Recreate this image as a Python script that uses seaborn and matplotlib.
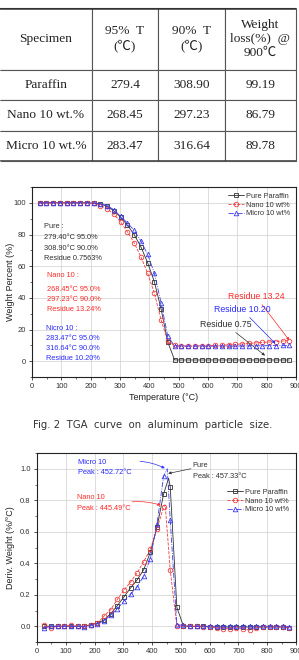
import matplotlib
matplotlib.use('Agg')
import matplotlib.pyplot as plt
import seaborn as sns
import pandas as pd
from matplotlib.ticker import MultipleLocator, AutoMinorLocator


# Tabela (valores do topo)
col_labels = ['Specimen', '95%  T\n(℃)', '90%  T\n(℃)', 'Weight\nloss(%)  @\n900℃']
specimens = ['Paraffin', 'Nano 10 wt.%', 'Micro 10 wt.%']
t95 = ['279.4', '268.45', '283.47']
t90 = ['308.90', '297.23', '316.64']
loss900 = ['99.19', '86.79', '89.78']

# Temperaturas dos marcadores
temp = [26, 49, 72, 95, 118, 141, 164, 187, 210, 233, 256, 279, 302, 325, 348,
        371, 394, 417, 440, 463, 486, 509, 532, 555, 578, 601, 624, 647, 670,
        693, 716, 739, 762, 785, 808, 831, 854, 877]

# TGA - Weight Percent (%)
pure_wt = [100, 100, 100, 100, 100, 100, 100, 100, 99.8, 99.3, 97.8, 95.0, 91.0,
           86.0, 80.0, 72.3, 62.3, 50.2, 33.0, 12.0, 0.8, 0.75, 0.75, 0.75, 0.75,
           0.75, 0.75, 0.75, 0.75, 0.75, 0.75, 0.75, 0.75, 0.75, 0.75, 0.75, 0.75, 0.75]
nano_wt = [100, 100, 100, 100, 100, 100, 100, 99.9, 99.6, 98.3, 96.2, 92.8, 88.0,
           81.7, 74.8, 66.0, 55.6, 43.0, 26.0, 12.5, 10.0, 9.6, 9.6, 9.6, 9.7,
           9.8, 9.9, 10.0, 10.3, 10.6, 10.9, 11.2, 11.5, 11.8, 12.1, 12.4, 12.7, 13.0]
micro_wt = [100, 100, 100, 100, 100, 100, 100, 100, 99.9, 99.5, 98.3, 95.6, 91.5,
            87.3, 82.7, 76.0, 67.5, 55.6, 37.0, 15.6, 9.6, 9.5, 9.5, 9.5, 9.5,
            9.5, 9.5, 9.5, 9.5, 9.5, 9.6, 9.6, 9.7, 9.7, 9.8, 9.8, 9.9, 9.9]

# DTG - Deriv. Weight (%/°C)
pure_dtg = [0.0, 0.0, 0.0, 0.0, 0.0, 0.0, 0.0, 0.01, 0.02, 0.04, 0.08, 0.13, 0.186,
            0.243, 0.294, 0.36, 0.47, 0.63, 0.84, 0.885, 0.12, 0.0, 0.0, 0.0, 0.0,
            -0.005, -0.005, -0.005, -0.005, -0.005, -0.005, -0.005, -0.005, -0.005,
            -0.005, -0.005, -0.005, -0.01]
nano_dtg = [0.005, -0.01, 0.0, 0.0, 0.005, 0.0, 0.0, 0.01, 0.02, 0.065, 0.105, 0.17,
            0.229, 0.28, 0.34, 0.41, 0.49, 0.62, 0.757, 0.356, 0.0, 0.0, 0.0, 0.0,
            -0.005, -0.005, -0.01, -0.015, -0.015, -0.01, -0.015, -0.025, -0.01,
            -0.005, -0.005, -0.005, -0.005, -0.01]
micro_dtg = [-0.01, 0.0, 0.0, 0.0, 0.0, 0.0, -0.005, 0.005, 0.015, 0.035, 0.07, 0.11,
             0.16, 0.203, 0.25, 0.32, 0.43, 0.652, 0.952, 0.673, 0.01, 0.005, 0.0,
             0.0, 0.0, 0.0, 0.0, 0.0, 0.0, 0.0, 0.0, 0.0, 0.0, 0.0, 0.0, 0.0, 0.0, -0.005]
# picos (sem marcador)
peak_T = [457.33, 445.49, 452.72]
peak_D = [0.94, 0.77, 1.0]

names = ['Pure Paraffin', 'Nano 10 wt%', 'Micro 10 wt%']
cores = ['#303030', '#f03c3c', '#3c3cf0']
marcadores = ['s', 'o', '^']
estilos = ['-', '--', '-.']
txt_red = '#ff2a2a'
txt_blue = '#2a2aff'

sns.set_style('ticks')
plt.rcParams['font.family'] = ['Liberation Sans', 'DejaVu Sans']

fig = plt.figure(figsize=(2.99, 6.6), dpi=100)
W, H = 299, 660

# ---------------- Tabela ----------------
axt = fig.add_axes([0, 1 - 161 / H, 296 / W, 153 / H])
axt.axis('off')
linhas = [[s, a, b, c] for s, a, b, c in zip(specimens, t95, t90, loss900)]
tab = axt.table(cellText=linhas, colLabels=col_labels, cellLoc='center',
                bbox=[0, 0, 1, 1], colWidths=[92, 66, 67, 71])
tab.auto_set_font_size(False)
for (r, c), cell in tab.get_celld().items():
    cell.set_height(62 if r == 0 else 30.5)
    cell.set_linewidth(0.8)
    cell.set_edgecolor('#555555')
    if c == 0:
        cell.visible_edges = 'TRB'
    txt = cell.get_text()
    txt.set_fontsize(9.6)
    txt.set_fontfamily(['Liberation Serif', 'Noto Sans CJK KR'])
    txt.set_color('#222222')
    txt.set_linespacing(1.25)
axt.axhline(1, color='#333333', lw=1.8)
axt.axhline(0, color='#333333', lw=1.8)


def estilo_eixo(ax):
    ax.grid(True, color='#cfcfcf', lw=0.5)
    ax.set_axisbelow(True)
    ax.xaxis.set_major_locator(MultipleLocator(100))
    ax.xaxis.set_minor_locator(AutoMinorLocator(2))
    ax.yaxis.set_minor_locator(AutoMinorLocator(2))
    ax.tick_params(which='major', direction='out', length=2.5, width=0.6,
                   labelsize=5.5, pad=2, color='#333333', labelcolor='#333333')
    ax.tick_params(which='minor', direction='out', length=1.5, width=0.5, color='#333333')
    for s in ax.spines.values():
        s.set_linewidth(0.8)
        s.set_color('#222222')
        s.set_visible(True)


# ---------------- TGA ----------------
ax1 = fig.add_axes([32 / W, 1 - 377 / H, 264 / W, 190 / H])
for nm, vals, cor, mk, ls in zip(names, [pure_wt, nano_wt, micro_wt], cores, marcadores, estilos):
    sns.lineplot(x=temp, y=vals, ax=ax1, color=cor, lw=0.6, linestyle=ls,
                 marker=mk, markerfacecolor='none', markeredgecolor=cor,
                 markersize=3.3, markeredgewidth=0.6, label=nm)
ax1.set_xlim(0, 900)
ax1.set_ylim(-10, 110)
ax1.yaxis.set_major_locator(MultipleLocator(20))
estilo_eixo(ax1)
ax1.set_xlabel('Temperature (°C)', fontsize=6.5, color='#222222', labelpad=2)
ax1.set_ylabel('Weight Percent (%)', fontsize=6.5, color='#222222')
ax1.yaxis.set_label_coords(-0.065, 0.5)
ax1.legend(loc='upper right', frameon=False, fontsize=5.3, handlelength=2.2,
           handletextpad=0.3, labelspacing=0.2, borderaxespad=0.4,
           labelcolor='#333333')

bloco = [
    (41, [84.8, 77.9, 71.2, 65.0], ['Pure :', '279.40°C 95.0%', '308.90°C 90.0%', 'Residue 0.7563%'], '#303030'),
    (50, [54.0, 45.2, 38.7, 32.5], ['Nano 10 :', '268.45°C 95.0%', '297.23°C 90.0%', 'Residue 13.24%'], txt_red),
    (48, [20.6, 14.0, 7.7, 1.4], ['Nicro 10 :', '283.47°C 95.0%', '316.64°C 90.0%', 'Residue 10.20%'], txt_blue),
]
for x0, ys, textos, cor in bloco:
    for yy, tt in zip(ys, textos):
        ax1.text(x0, yy, tt, fontsize=5.3, color=cor, va='center', ha='left')

ax1.annotate('Residue 13.24', xy=(880, 12.5), xytext=(764, 40.6), fontsize=6.3,
             color=txt_red, ha='center', va='center',
             arrowprops=dict(arrowstyle='-|>', color=txt_red, lw=0.5, mutation_scale=4,
                             shrinkA=0, shrinkB=1))
ax1.annotate('Residue 10.20', xy=(833, 10.5), xytext=(716, 32.5), fontsize=6.3,
             color=txt_blue, ha='center', va='center',
             arrowprops=dict(arrowstyle='-|>', color=txt_blue, lw=0.5, mutation_scale=4,
                             shrinkA=0, shrinkB=1))
ax1.annotate('Residue 0.75', xy=(798, 3), xytext=(661, 23), fontsize=6.3,
             color='#303030', ha='center', va='center',
             arrowprops=dict(arrowstyle='-|>', color='#303030', lw=0.5, mutation_scale=4,
                             shrinkA=0, shrinkB=1))

fig.text(153 / W, 1 - 425 / H, 'Fig. 2  TGA  curve  on  aluminum  particle  size.',
         ha='center', va='center', fontsize=7.3, color='#333333',
         family=['DejaVu Sans'])

# ---------------- DTG ----------------
ax2 = fig.add_axes([37 / W, 1 - 642 / H, 259 / W, 189 / H])
for nm, vals, pt, pdv, cor, mk, ls in zip(names, [pure_dtg, nano_dtg, micro_dtg], peak_T,
                                         peak_D, cores, marcadores, estilos):
    df = pd.DataFrame({'T': temp + [pt], 'D': vals + [pdv]})
    df = df.sort_values('T').reset_index(drop=True)
    marcas = list(df.index[df['T'] != pt])
    sns.lineplot(data=df, x='T', y='D', ax=ax2, color=cor, lw=0.6, linestyle=ls,
                 marker=mk, markevery=marcas, markerfacecolor='none',
                 markeredgecolor=cor, markersize=3.3, markeredgewidth=0.6, label=nm)
ax2.set_xlim(0, 900)
ax2.set_ylim(-0.1, 1.1)
ax2.yaxis.set_major_locator(MultipleLocator(0.2))
ax2.yaxis.set_major_formatter(plt.FormatStrFormatter('%.1f'))
estilo_eixo(ax2)
ax2.set_xlabel('')
ax2.set_ylabel('Deriv. Weight (%/°C)', fontsize=6.5, color='#222222')
ax2.yaxis.set_label_coords(-0.085, 0.5)
ax2.legend(loc='upper right', bbox_to_anchor=(1.0, 0.845), frameon=False, fontsize=5.3,
           handlelength=2.2, handletextpad=0.3, labelspacing=0.2, labelcolor='#333333')

ax2.text(143, 1.037, 'Micro 10', fontsize=5.3, color=txt_blue, va='center')
ax2.text(143, 0.978, 'Peak : 452.72°C', fontsize=5.3, color=txt_blue, va='center')
ax2.text(139, 0.817, 'Nano 10', fontsize=5.3, color=txt_red, va='center')
ax2.text(139, 0.747, 'Peak : 445.49°C', fontsize=5.3, color=txt_red, va='center')
ax2.text(541, 1.022, 'Pure', fontsize=5.3, color='#303030', va='center')
ax2.text(541, 0.952, 'Peak : 457.33°C', fontsize=5.3, color='#303030', va='center')

ax2.annotate('', xy=(444, 1.003), xytext=(358, 1.047),
             arrowprops=dict(arrowstyle='-|>', color=txt_blue, lw=0.5, mutation_scale=4,
                             shrinkA=0, shrinkB=0, connectionstyle='arc3,rad=-0.1'))
ax2.annotate('', xy=(430, 0.768), xytext=(330, 0.79),
             arrowprops=dict(arrowstyle='-|>', color=txt_red, lw=0.5, mutation_scale=4,
                             shrinkA=0, shrinkB=0, connectionstyle='arc3,rad=-0.1'))
ax2.annotate('', xy=(456, 0.97), xytext=(535, 1.0),
             arrowprops=dict(arrowstyle='-|>', color='#303030', lw=0.5, mutation_scale=4,
                             shrinkA=0, shrinkB=0))

fig.savefig('out.png', dpi=100)
